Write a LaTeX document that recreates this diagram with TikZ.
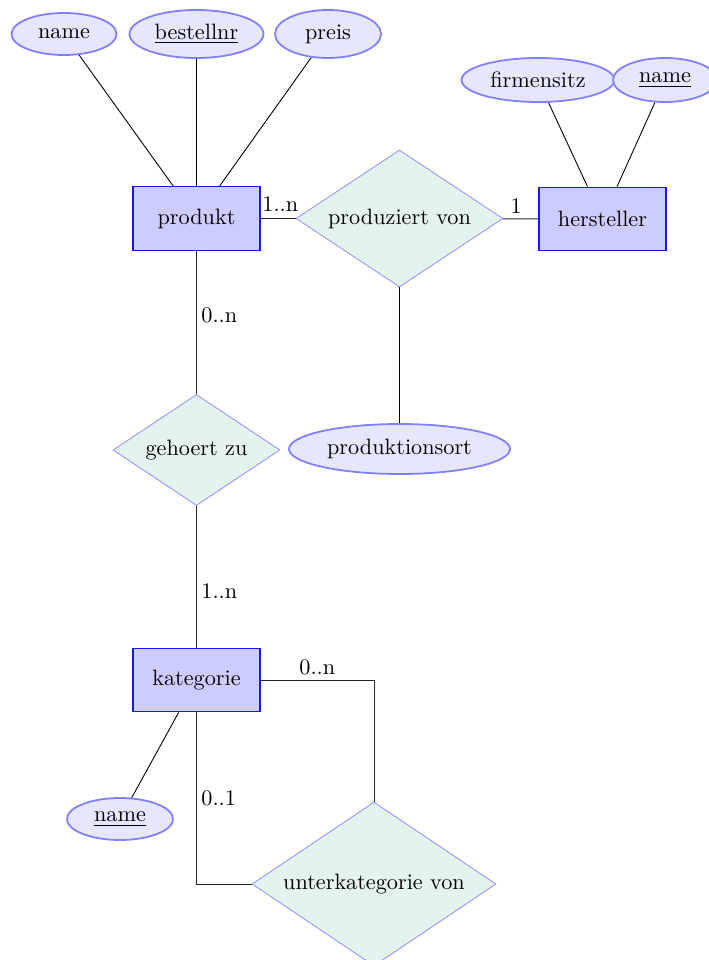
\documentclass[tikz,border=0pt]{standalone}
\usetikzlibrary{shapes.geometric}
\newdimen\ppx
\ppx=0.45pt
\definecolor{entfill}{RGB}{204,204,255}
\definecolor{entdraw}{RGB}{20,20,255}
\definecolor{attfill}{RGB}{230,230,255}
\definecolor{attdraw}{RGB}{128,128,255}
\definecolor{relfill}{RGB}{228,243,237}
\definecolor{reldraw}{RGB}{150,150,255}
\tikzset{
  entity/.style={rectangle, draw=entdraw, fill=entfill, line width=0.6pt,
    minimum width=127\ppx, minimum height=63.5\ppx, inner sep=0pt},
  attribute/.style={ellipse, draw=attdraw, fill=attfill, line width=0.8pt, inner sep=0pt},
  relation/.style={diamond, draw=reldraw, fill=relfill, line width=0.4pt, inner sep=0pt, aspect=1.5},
  attline/.style={draw=black, line width=0.4pt},
  relline/.style={draw=black!85, line width=0.45pt},
  card/.style={inner sep=2pt, font=\normalsize}
}
\begin{document}
\begin{tikzpicture}[x=0.45pt,y=-0.45pt]
\useasboundingbox (0,0) rectangle (708,960);
% entities
\node[entity] (produkt) at (196.5,218.5) {produkt};
\node[entity] (hersteller) at (602.5,219) {hersteller};
\node[entity] (kategorie) at (196.5,680) {kategorie};
% relations
\node[relation, minimum width=207\ppx, minimum height=137\ppx] (produziert) at (399.5,218.5) {produziert von};
\node[relation, minimum width=167\ppx, minimum height=111\ppx] (gehoert) at (196.5,450) {gehoert zu};
\node[relation, minimum width=244\ppx, minimum height=164\ppx] (unterkat) at (374,884) {unterkategorie von};
% attributes
\node[attribute, minimum width=105\ppx, minimum height=42\ppx] (pname) at (64,34) {name};
\node[attribute, minimum width=134\ppx, minimum height=48\ppx] (pbest) at (196.5,34) {\underline{bestellnr}};
\node[attribute, minimum width=106\ppx, minimum height=48\ppx] (ppreis) at (328,34) {preis};
\node[attribute, minimum width=153\ppx, minimum height=44\ppx] (hsitz) at (538,80) {firmensitz};
\node[attribute, minimum width=104\ppx, minimum height=44\ppx] (hname) at (665,80) {\underline{name}};
\node[attribute, minimum width=221\ppx, minimum height=50\ppx] (ort) at (399.5,449) {produktionsort};
\node[attribute, minimum width=106\ppx, minimum height=42\ppx] (kname) at (120,819) {\underline{name}};
% attribute connectors
\draw[attline] (pname) -- (produkt);
\draw[attline] (pbest) -- (produkt);
\draw[attline] (ppreis) -- (produkt);
\draw[attline] (hsitz) -- (hersteller);
\draw[attline] (hname) -- (hersteller);
\draw[attline] (produziert) -- (ort);
\draw[attline] (kname) -- (kategorie);
% relationship connectors
\draw[relline] (produkt) -- node[card, above, yshift=1pt, xshift=1pt] {1..n} (produziert);
\draw[relline] (produziert) -- node[card, above, xshift=-2pt] {1} (hersteller);
\draw[relline] (produkt) -- node[card, right, pos=0.45] {0..n} (gehoert);
\draw[relline] (gehoert) -- node[card, right, pos=0.6] {1..n} (kategorie);
\draw[relline] (kategorie.east) -| node[card, above, pos=0.25] {0..n} (unterkat.north);
\draw[relline] (kategorie.south) |- node[card, right, pos=0.25] {0..1} (unterkat.west);
\end{tikzpicture}
\end{document}
